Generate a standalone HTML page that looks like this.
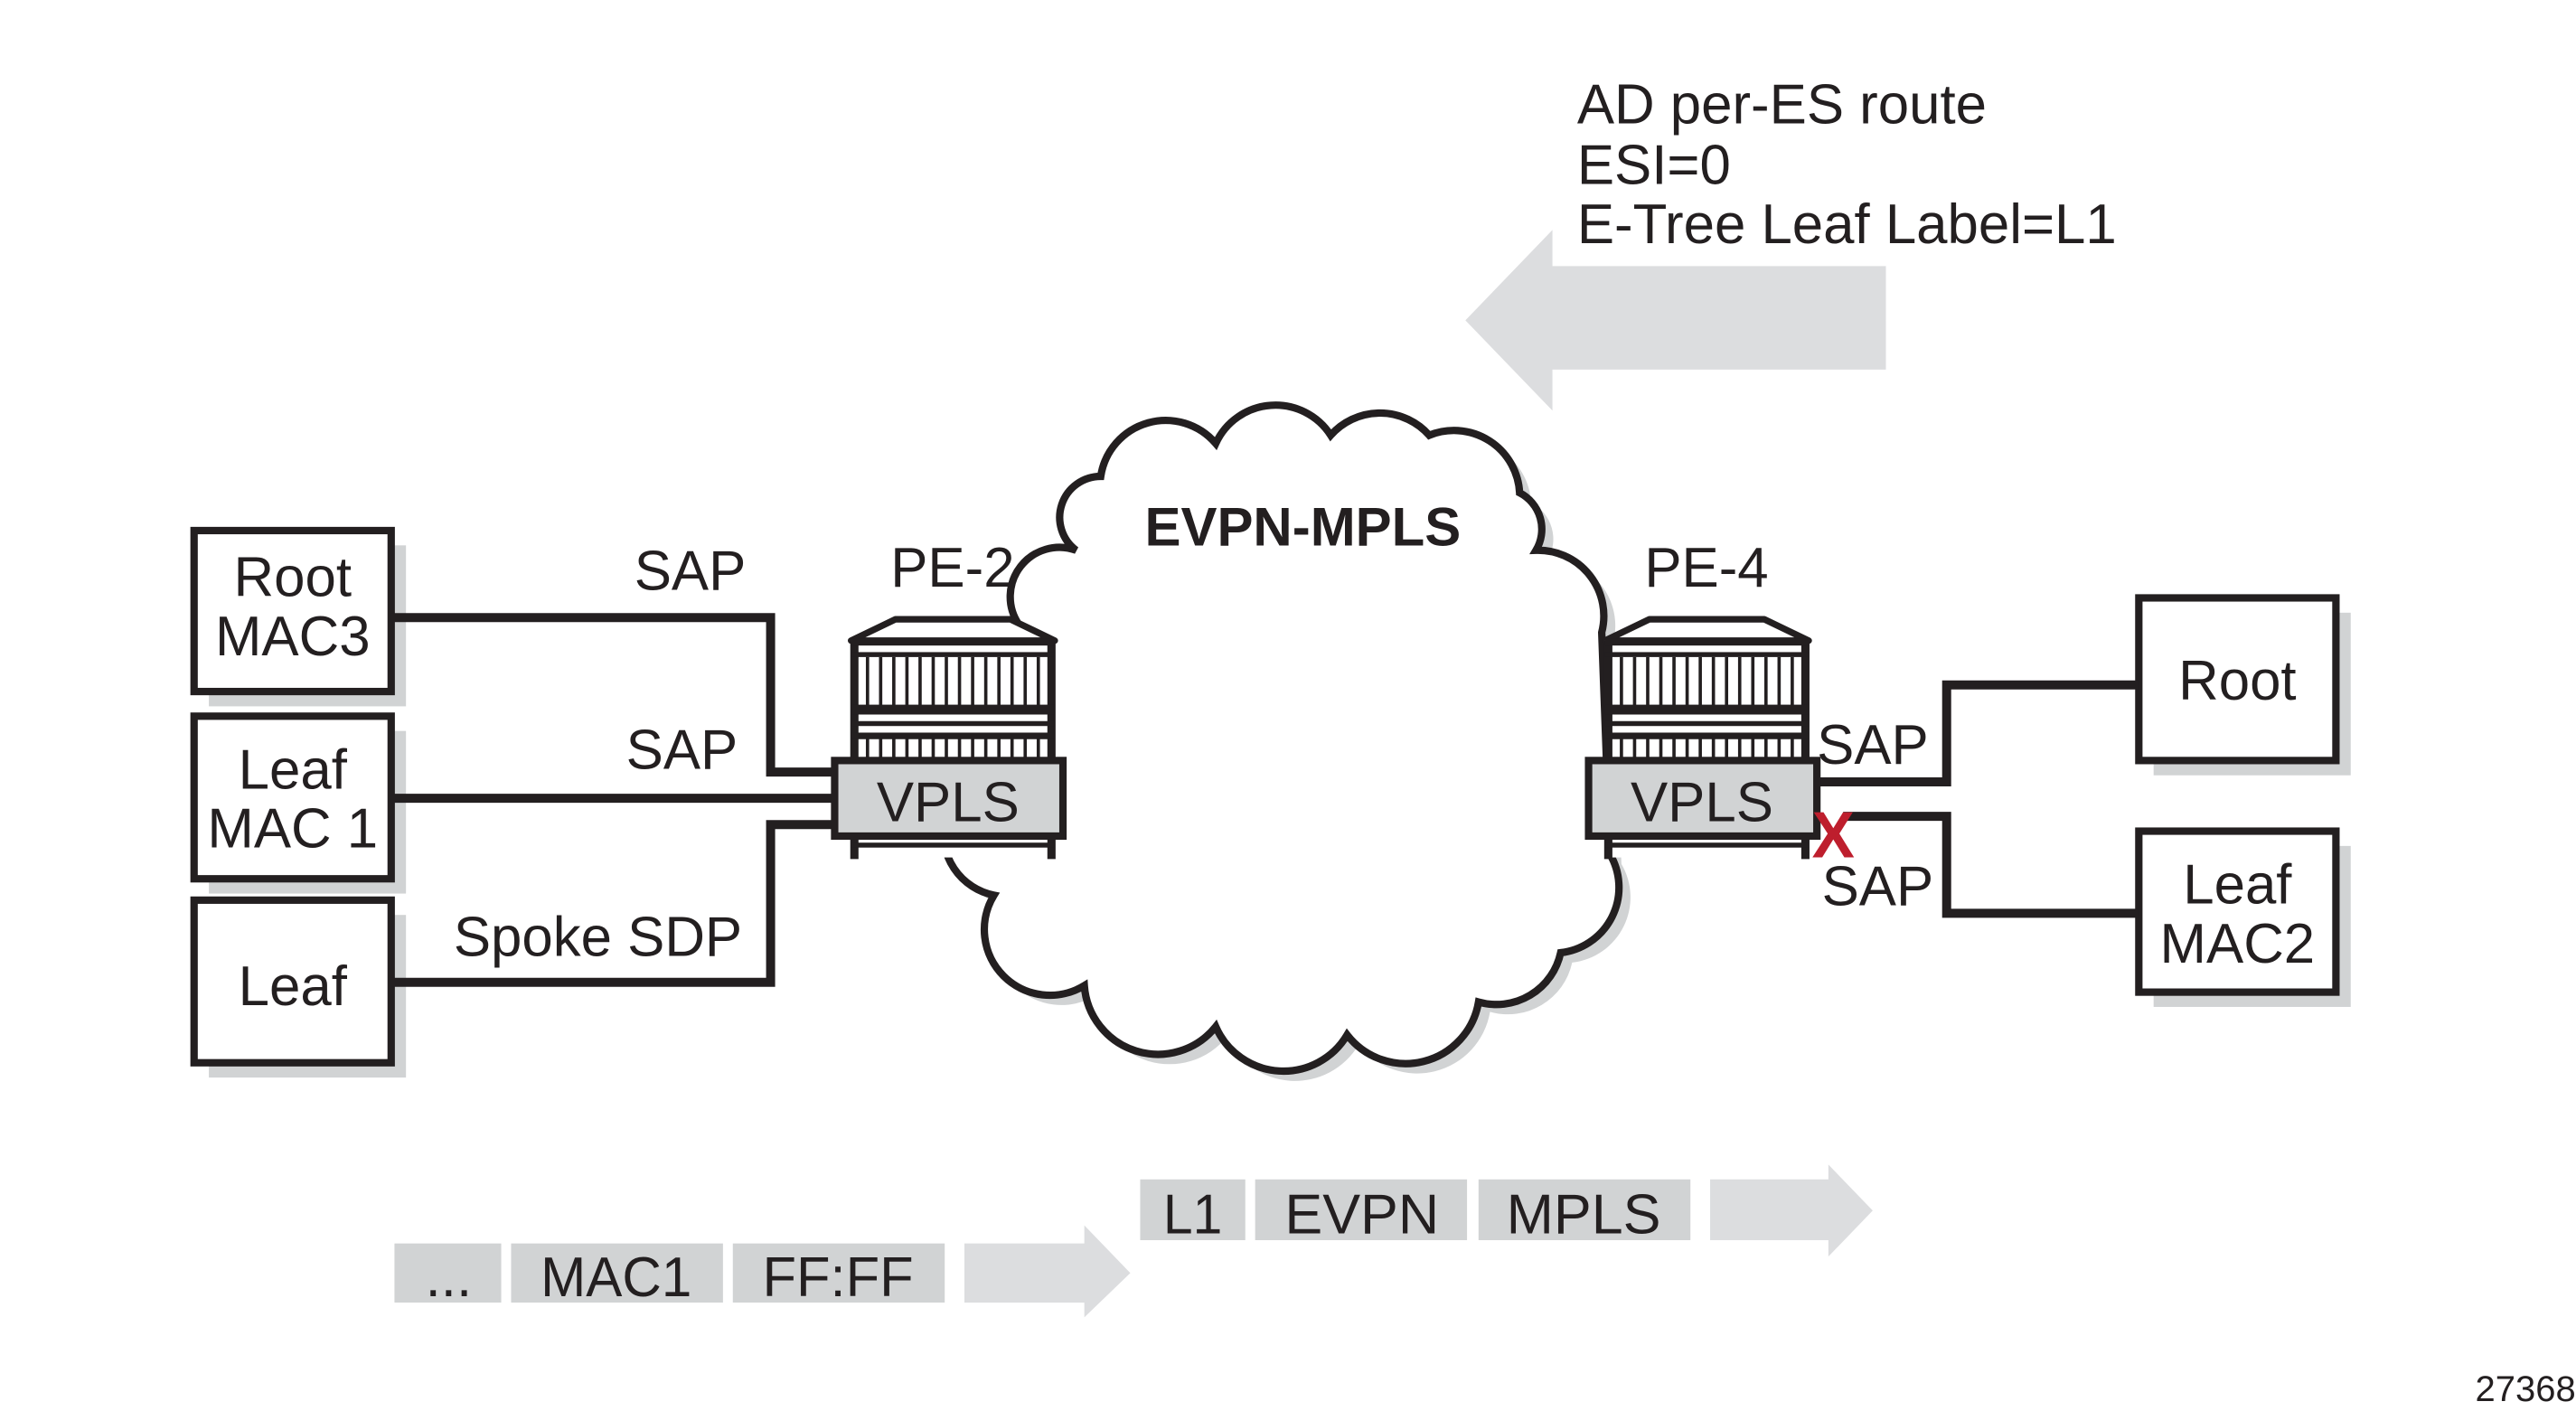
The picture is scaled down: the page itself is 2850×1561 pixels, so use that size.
<!DOCTYPE html>
<html><head><meta charset="utf-8"><style>html,body{margin:0;padding:0;background:#fff}svg{display:block}</style></head>
<body>
<svg width="2850" height="1561" viewBox="0 0 1568 859" xmlns="http://www.w3.org/2000/svg" font-family="'Liberation Sans', sans-serif" fill="#231f20">
<defs>
<g id="rtr">
  <path d="M518 390 L545 377 L615 377 L642 390 Z" fill="#fff" stroke="#231f20" stroke-width="4" stroke-linejoin="round"/>
  <rect x="518" y="390" width="124" height="132" fill="#fff" stroke="none"/>
  <line x1="520" y1="390" x2="520" y2="523" stroke="#231f20" stroke-width="5"/>
  <line x1="640" y1="390" x2="640" y2="523" stroke="#231f20" stroke-width="5"/>
  <rect x="518" y="389" width="124" height="4"/>
  <rect x="518" y="397" width="124" height="3"/>
  <g stroke="#231f20" stroke-width="2">
    <line x1="528" y1="400" x2="528" y2="430"/><line x1="536" y1="400" x2="536" y2="430"/><line x1="544" y1="400" x2="544" y2="430"/><line x1="552" y1="400" x2="552" y2="430"/><line x1="560" y1="400" x2="560" y2="430"/><line x1="568" y1="400" x2="568" y2="430"/><line x1="576" y1="400" x2="576" y2="430"/><line x1="584" y1="400" x2="584" y2="430"/><line x1="592" y1="400" x2="592" y2="430"/><line x1="600" y1="400" x2="600" y2="430"/><line x1="608" y1="400" x2="608" y2="430"/><line x1="616" y1="400" x2="616" y2="430"/><line x1="624" y1="400" x2="624" y2="430"/><line x1="632" y1="400" x2="632" y2="430"/>
    <line x1="528" y1="448" x2="528" y2="462"/><line x1="536" y1="448" x2="536" y2="462"/><line x1="544" y1="448" x2="544" y2="462"/><line x1="552" y1="448" x2="552" y2="462"/><line x1="560" y1="448" x2="560" y2="462"/><line x1="568" y1="448" x2="568" y2="462"/><line x1="576" y1="448" x2="576" y2="462"/><line x1="584" y1="448" x2="584" y2="462"/><line x1="592" y1="448" x2="592" y2="462"/><line x1="600" y1="448" x2="600" y2="462"/><line x1="608" y1="448" x2="608" y2="462"/><line x1="616" y1="448" x2="616" y2="462"/><line x1="624" y1="448" x2="624" y2="462"/><line x1="632" y1="448" x2="632" y2="462"/>
  </g>
  <rect x="518" y="429" width="124" height="6"/>
  <rect x="518" y="439" width="124" height="3"/>
  <rect x="518" y="446" width="124" height="4"/>
  <rect x="508" y="463" width="139" height="46" fill="#d1d3d4" stroke="#231f20" stroke-width="4.5"/>
  <rect x="518" y="513" width="124" height="3"/>
  <text x="577" y="500" font-size="34" text-anchor="middle">VPLS</text>
</g>
</defs>

<polygon points="892,195 945,140 945,162 1148,162 1148,225 945,225 945,250" fill="#dcdddf"/>
<text x="960" y="75" font-size="34">AD per-ES route</text>
<text x="960" y="112" font-size="34">ESI=0</text>
<text x="960" y="148" font-size="34">E-Tree Leaf Label=L1</text>

<path d="M662 341 A25 25 0 0 1 677 296 A40 40 0 0 1 747 276 A40 40 0 0 1 817 271 A40 40 0 0 1 877 271 A40 40 0 0 1 932 306 A25 25 0 0 1 942 341 A40 40 0 0 1 982 391 L987 526 A40 40 0 0 1 957 586 A40 40 0 0 1 907 616 A45 45 0 0 1 827 636 A45 45 0 0 1 747 631 A45 45 0 0 1 667 606 A40 40 0 0 1 612 551 A30 30 0 0 1 627 476 L627 386 A30 30 0 0 1 662 341 Z" fill="#d1d3d4"/>
<path d="M655 335 A25 25 0 0 1 670 290 A40 40 0 0 1 740 270 A40 40 0 0 1 810 265 A40 40 0 0 1 870 265 A40 40 0 0 1 925 300 A25 25 0 0 1 935 335 A40 40 0 0 1 975 385 L980 520 A40 40 0 0 1 950 580 A40 40 0 0 1 900 610 A45 45 0 0 1 820 630 A45 45 0 0 1 740 625 A45 45 0 0 1 660 600 A40 40 0 0 1 605 545 A30 30 0 0 1 620 470 L620 380 A30 30 0 0 1 655 335 Z" fill="#fff" stroke="#231f20" stroke-width="4.5"/>
<text x="793" y="332" font-size="33" font-weight="bold" text-anchor="middle">EVPN-MPLS</text>

<g fill="#d1d3d4">
<rect x="127" y="332" width="120" height="98"/><rect x="127" y="445" width="120" height="99"/><rect x="127" y="557" width="120" height="99"/>
<rect x="1311" y="373" width="120" height="99"/><rect x="1311" y="515" width="120" height="98"/>
</g>
<g fill="#fff" stroke="#231f20" stroke-width="4.5">
<rect x="118" y="323" width="120" height="98"/><rect x="118" y="436" width="120" height="99"/><rect x="118" y="548" width="120" height="99"/>
<rect x="1302" y="364" width="120" height="99"/><rect x="1302" y="506" width="120" height="98"/>
</g>
<g font-size="34" text-anchor="middle">
<text x="178" y="363">Root</text><text x="178" y="399">MAC3</text>
<text x="178" y="480">Leaf</text><text x="178" y="516">MAC 1</text>
<text x="178" y="612">Leaf</text>
<text x="1362" y="426">Root</text>
<text x="1362" y="550">Leaf</text><text x="1362" y="586">MAC2</text>
</g>

<g fill="none" stroke="#231f20" stroke-width="5.5">
<path d="M238 376 H469 V470 H510"/>
<path d="M238 486 H510"/>
<path d="M238 598 H469 V502 H510"/>
<path d="M1104 476 H1185 V417 H1302"/>
<path d="M1122 497 H1185 V556 H1302"/>
</g>
<g font-size="34">
<text x="386" y="359">SAP</text>
<text x="381" y="468">SAP</text>
<text x="276" y="582">Spoke SDP</text>
<text x="542" y="357">PE-2</text>
<text x="1001" y="357">PE-4</text>
<text x="1106" y="465">SAP</text>
<text x="1109" y="551">SAP</text>
</g>

<use href="#rtr"/>
<use href="#rtr" x="459"/>
<text x="1116" y="522" font-size="40" font-weight="bold" fill="#be1e2d" text-anchor="middle" textLength="26" lengthAdjust="spacingAndGlyphs">X</text>

<g fill="#d1d3d4">
<rect x="240" y="757" width="65" height="36"/><rect x="311" y="757" width="129" height="36"/><rect x="446" y="757" width="129" height="36"/>
<polygon points="587,757 660,757 660,746 688,775 660,802 660,793 587,793" fill="#dcdddf"/>
<rect x="694" y="718" width="64" height="37"/><rect x="764" y="718" width="129" height="37"/><rect x="900" y="718" width="129" height="37"/>
<polygon points="1041,718 1113,718 1113,709 1140,737 1113,765 1113,755 1041,755" fill="#dcdddf"/>
</g>
<g font-size="34" text-anchor="middle">
<text x="273" y="789">...</text>
<text x="375" y="789" textLength="92" lengthAdjust="spacingAndGlyphs">MAC1</text>
<text x="510" y="789" textLength="92" lengthAdjust="spacingAndGlyphs">FF:FF</text>
<text x="726" y="751" textLength="36" lengthAdjust="spacingAndGlyphs">L1</text>
<text x="829" y="751" textLength="94" lengthAdjust="spacingAndGlyphs">EVPN</text>
<text x="964" y="751" textLength="94" lengthAdjust="spacingAndGlyphs">MPLS</text>
</g>
<text x="1568" y="853" font-size="22" text-anchor="end">27368</text>
</svg>
</body></html>
